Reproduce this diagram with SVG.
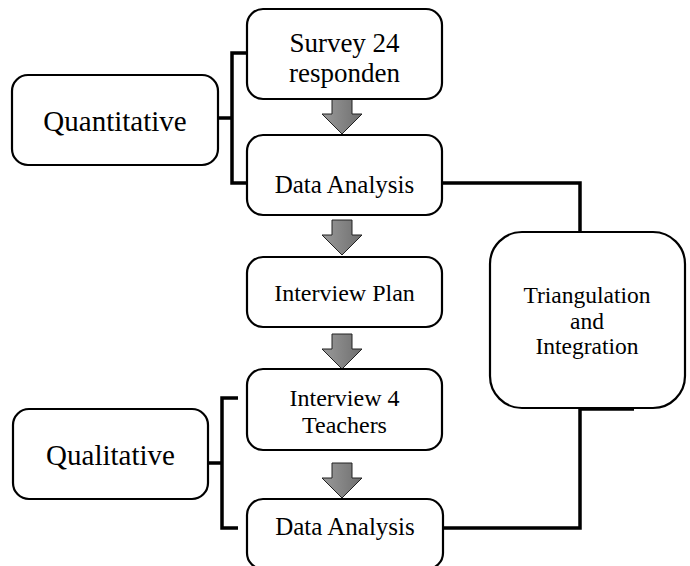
<svg xmlns="http://www.w3.org/2000/svg" width="690" height="566" viewBox="0 0 690 566">
<style>
.box{fill:#fff;stroke:#000;stroke-width:2.2}
.t{fill:#000;text-anchor:middle}
.con{fill:none;stroke:#000;stroke-width:3.5}
.arr{fill:url(#g);stroke:#222;stroke-width:1}
</style>
<defs>
<linearGradient id="g" x1="0" y1="0" x2="1" y2="0">
<stop offset="0" stop-color="#9a9a9a"/>
<stop offset="1" stop-color="#6e6e6e"/>
</linearGradient>
<path id="arrow" d="M-10,0 H10 V15 H20 L0,35 L-20,15 H-10 Z"/>
</defs>
<rect width="690" height="566" fill="#fff"/>
<g id="connectors">
<path class="con" d="M247,53 H232 V183 H247 M218,118 H232"/>
<path class="con" d="M238,398 H222 V528 H238 M208,463 H222"/>
<path class="con" d="M442,183 H580 V232"/>
<path class="con" d="M580,408 V528 H443"/>
<path class="con" d="M580,409 H634" stroke-width="2.5"/>
<use href="#arrow" class="arr" x="342" y="99"/>
<use href="#arrow" class="arr" x="342" y="220"/>
<use href="#arrow" class="arr" x="342" y="334"/>
<use href="#arrow" class="arr" x="342" y="463"/>
</g>
<g font-family="Liberation Serif, Tinos, Times New Roman, Times, Nimbus Roman, DejaVu Serif, serif">
<g id="quantitative">
<rect class="box" x="12" y="75" width="206" height="90" rx="16"/>
<text class="t" x="115" y="131" font-size="29">Quantitative</text>
</g>
<g id="survey">
<rect class="box" x="247" y="9" width="195" height="90" rx="16"/>
<text class="t" x="344.5" y="52" font-size="27">Survey 24</text>
<text class="t" x="344.5" y="82" font-size="27">responden</text>
</g>
<g id="analysis1">
<rect class="box" x="247" y="135" width="195" height="80" rx="16"/>
<text class="t" x="344.5" y="193" font-size="25">Data Analysis</text>
</g>
<g id="plan">
<rect class="box" x="247" y="257" width="195" height="70" rx="16"/>
<text class="t" x="344.5" y="301" font-size="24">Interview Plan</text>
</g>
<g id="interview">
<rect class="box" x="247" y="369" width="195" height="81" rx="16"/>
<text class="t" x="344.5" y="406" font-size="24">Interview 4</text>
<text class="t" x="344.5" y="433" font-size="24">Teachers</text>
</g>
<g id="analysis2">
<rect class="box" x="247" y="499" width="196" height="70" rx="16"/>
<text class="t" x="345" y="535" font-size="25">Data Analysis</text>
</g>
<g id="qualitative">
<rect class="box" x="13" y="409" width="195" height="90" rx="16"/>
<text class="t" x="110.5" y="465" font-size="29">Qualitative</text>
</g>
<g id="triangulation">
<rect class="box" x="490" y="232" width="195" height="176" rx="32"/>
<text class="t" x="587" y="303" font-size="23.5">Triangulation</text>
<text class="t" x="587" y="329" font-size="23.5">and</text>
<text class="t" x="587" y="354" font-size="23.5">Integration</text>
</g>
</g>
</svg>
